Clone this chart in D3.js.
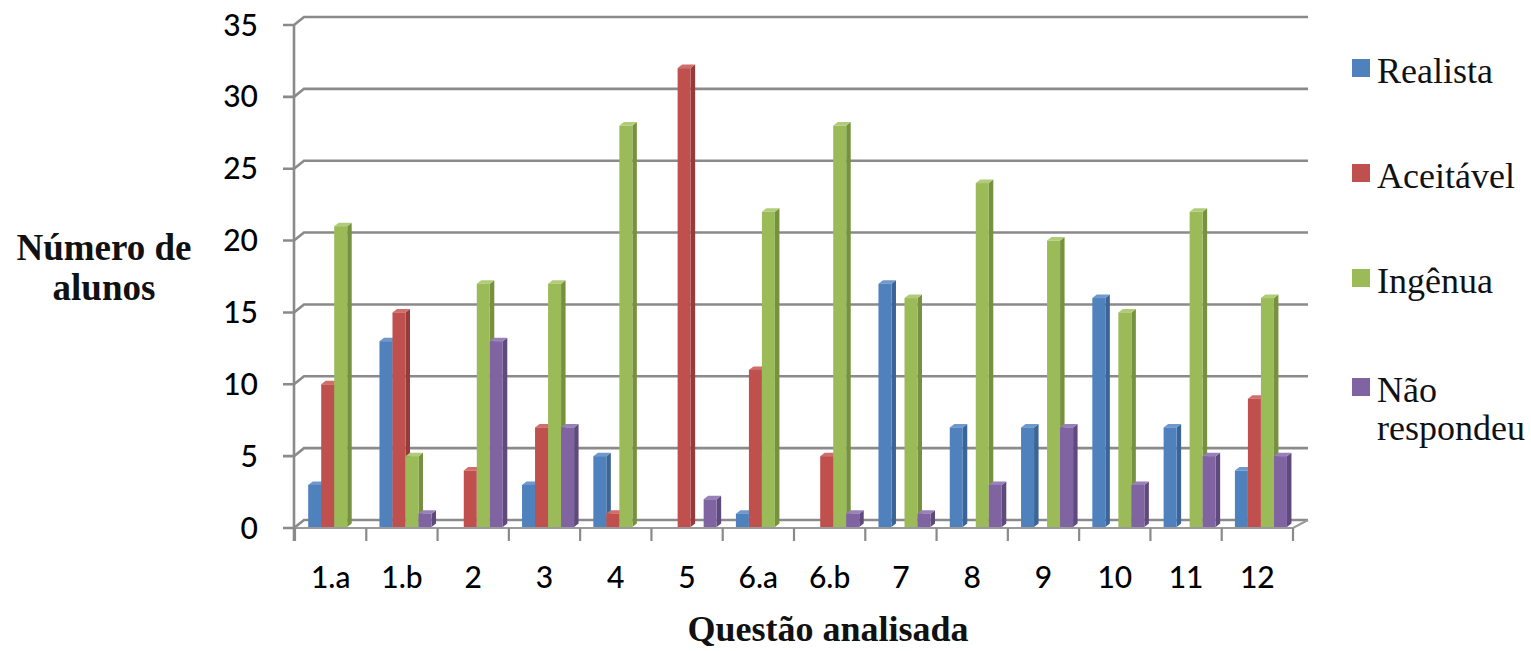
<!DOCTYPE html>
<html>
<head>
<meta charset="utf-8">
<script src="https://cdn.jsdelivr.net/npm/d3@7"></script>
<style>
  html, body { margin: 0; padding: 0; background: #ffffff; }
  svg { display: block; }
</style>
</head>
<body>
<div id="chart"></div>
<script>
// Questions analysed (x categories)
const categories = ["1.a", "1.b", "2", "3", "4", "5", "6.a", "6.b", "7", "8", "9", "10", "11", "12"];

// Number of students per conception type
const series = ["Realista", "Aceitável", "Ingênua", "Não respondeu"];
const realista     = [3, 13, 0, 3, 5, 0, 1, 0, 17, 7, 7, 16, 7, 4];
const aceitavel    = [10, 15, 4, 7, 1, 32, 11, 5, 0, 0, 0, 0, 0, 9];
const ingenua      = [21, 5, 17, 17, 28, 0, 22, 28, 16, 24, 20, 15, 22, 16];
const naoRespondeu = [0, 1, 13, 7, 0, 2, 0, 1, 1, 3, 7, 3, 5, 5];

const yTicks = [0, 5, 10, 15, 20, 25, 30, 35];

const values = [realista, aceitavel, ingenua, naoRespondeu];
const colors = ["#4f81bd", "#c0504d", "#9bbb59", "#8064a2"];
const sideColors = ["#3a6596", "#963b39", "#76923f", "#5f4a7d"];
const topColors = ["#6f98cc", "#d06e6b", "#b0cc78", "#9a80ba"];

const W = 1531, H = 651;
const svg = d3.select("#chart").append("svg")
  .attr("width", W).attr("height", H);

// Front plane of the 3D plot, plus the depth offset of the back wall
const x0 = d3.scaleBand().domain(categories).range([295, 1293]).paddingInner(0).paddingOuter(0);
const bw = x0.bandwidth();
const x1 = d3.scaleBand().domain(series).range([bw * 0.185, bw * 0.185 + bw * 0.73]);
const y = d3.scaleLinear().domain([0, 35]).range([528, 25]);
const depthX = 10, depthY = -8;
const barDX = 4.5, barDY = -3.5;
const axisColor = "#8a8a8a";

// Back-wall gridlines with diagonal joins to the front axis ticks
const grid = svg.append("g");
yTicks.forEach(t => {
  const yy = y(t);
  grid.append("path")
    .attr("d", `M283,${yy} L294,${yy} L${294 + depthX},${yy + depthY} L1308,${yy + depthY}`)
    .attr("fill", "none")
    .attr("stroke", axisColor)
    .attr("stroke-width", 2.6);
});

// Floor: front edge and right-hand depth edge
grid.append("path")
  .attr("d", `M294,${y(0)} L1293,${y(0)} L1308,${y(0) + depthY}`)
  .attr("fill", "none").attr("stroke", "#9a9a9a").attr("stroke-width", 2);

// Front vertical axis line
grid.append("line")
  .attr("x1", 294).attr("x2", 294)
  .attr("y1", y(35)).attr("y2", y(0) + 13)
  .attr("stroke", axisColor).attr("stroke-width", 2.6);

// Category tick marks along the front floor edge
const catBounds = categories.map(c => x0(c)).concat([x0(categories[categories.length - 1]) + bw]);
grid.selectAll("line.ctick").data(catBounds).enter().append("line")
  .attr("class", "ctick")
  .attr("x1", d => d).attr("x2", d => d)
  .attr("y1", y(0)).attr("y2", y(0) + 13)
  .attr("stroke", axisColor).attr("stroke-width", 2.2);

// Y tick labels
svg.append("g").selectAll("text").data(yTicks).enter().append("text")
  .attr("x", 258).attr("y", d => y(d) + 3)
  .attr("text-anchor", "end").attr("dominant-baseline", "middle")
  .attr("font-family", "Lato, 'Open Sans', sans-serif")
  .attr("font-size", 30).attr("font-weight", 500).attr("fill", "#000")
  .text(d => d);

// X tick labels
svg.append("g").selectAll("text").data(categories).enter().append("text")
  .attr("x", d => x0(d) + bw / 2).attr("y", 588)
  .attr("text-anchor", "middle")
  .attr("font-family", "Lato, 'Open Sans', sans-serif")
  .attr("font-size", 30).attr("font-weight", 500).attr("fill", "#000")
  .text(d => d);

// 3D columns: front face, right side face, top face
const bars = svg.append("g");
const barW = x1.bandwidth();
categories.forEach((c, ci) => {
  series.forEach((s, si) => {
    const v = values[si][ci];
    if (!v) return;
    const xl = x0(c) + x1(s);
    const xr = xl + barW;
    const yt = y(v), yb = y(0) - 1;
    const g = bars.append("g");
    g.append("path")
      .attr("d", `M${xr},${yt} L${xr + barDX},${yt + barDY} L${xr + barDX},${yb + barDY} L${xr},${yb} Z`)
      .attr("fill", sideColors[si]);
    g.append("path")
      .attr("d", `M${xl},${yt} L${xr},${yt} L${xr + barDX},${yt + barDY} L${xl + barDX},${yt + barDY} Z`)
      .attr("fill", topColors[si]);
    g.append("rect")
      .attr("x", xl).attr("y", yt)
      .attr("width", barW).attr("height", yb - yt)
      .attr("fill", colors[si]);
  });
});

// Axis titles
const serif = "'Liberation Serif', 'Times New Roman', serif";
svg.append("text")
  .attr("x", 828).attr("y", 641)
  .attr("text-anchor", "middle")
  .attr("font-family", serif).attr("font-weight", "bold")
  .attr("font-size", 36).attr("fill", "#111")
  .text("Questão analisada");

const yTitle = svg.append("text")
  .attr("text-anchor", "middle")
  .attr("font-family", serif).attr("font-weight", "bold")
  .attr("font-size", 37).attr("fill", "#111");
yTitle.append("tspan").attr("x", 104).attr("y", 260).text("Número de");
yTitle.append("tspan").attr("x", 104).attr("y", 300).text("alunos");

// Legend
const legendY = [59, 164, 269, 378];
const legend = svg.append("g");
series.forEach((s, i) => {
  legend.append("rect")
    .attr("x", 1352).attr("y", legendY[i])
    .attr("width", 18).attr("height", 18)
    .attr("fill", colors[i]);
  const t = legend.append("text")
    .attr("font-family", serif).attr("font-size", 36).attr("fill", "#111");
  const words = s === "Não respondeu" ? ["Não", "respondeu"] : [s];
  words.forEach((w, wi) => {
    t.append("tspan").attr("x", 1377).attr("y", legendY[i] + 24 + wi * 38).text(w);
  });
});
</script>
</body>
</html>
